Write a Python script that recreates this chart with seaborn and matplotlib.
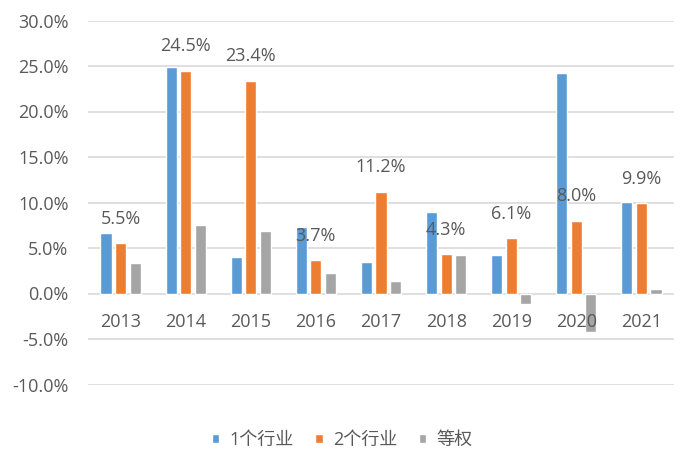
import seaborn as sns
import pandas as pd
import matplotlib.pyplot as plt
from matplotlib.ticker import FuncFormatter

years = ['2013', '2014', '2015', '2016', '2017', '2018', '2019', '2020', '2021']
one_industry = [6.7, 24.9, 4.0, 7.3, 3.5, 9.0, 4.2, 24.2, 10.1]
two_industry = [5.5, 24.5, 23.4, 3.7, 11.2, 4.3, 6.1, 8.0, 9.9]
equal_weight = [3.3, 7.5, 6.9, 2.2, 1.4, 4.2, -1.1, -4.2, 0.5]
series_names = ['1个行业', '2个行业', '等权']

df = pd.DataFrame({
    'year': years * 3,
    'value': one_industry + two_industry + equal_weight,
    'series': [series_names[0]] * 9 + [series_names[1]] * 9 + [series_names[2]] * 9,
})

sns.set_theme(style='white')
plt.rcParams['font.family'] = ['Open Sans', 'Noto Sans CJK SC', 'DejaVu Sans']
text_color = '#595959'

fig = plt.figure(figsize=(6.84, 4.59), dpi=100)
ax = fig.add_axes([88 / 684, (459 - 384.5) / 459, (674 - 88) / 684, (384.5 - 20.5) / 459])

sns.barplot(data=df, x='year', y='value', hue='series', ax=ax,
            palette=['#5B9BD5', '#ED7D31', '#A5A5A5'], width=0.67, gap=0.24,
            saturation=1, zorder=3)

ax.set_ylim(-10, 30)
ax.set_yticks(range(-10, 31, 5))
ax.yaxis.set_major_formatter(FuncFormatter(lambda v, _: '{:.1f}%'.format(v)))
ax.grid(axis='y', color='#D9D9D9', linewidth=1.2, zorder=0)
for s in ['top', 'right', 'left', 'bottom']:
    ax.spines[s].set_visible(False)
ax.tick_params(axis='y', length=0, pad=14, labelsize=13, labelcolor=text_color)
ax.set_xticks(range(len(years)))
ax.set_xticklabels([])
ax.tick_params(axis='x', length=0)
ax.set_xlabel('')
ax.set_ylabel('')

# year labels just below the zero line, drawn above the bars
for i, y in enumerate(years):
    ax.annotate(y, xy=(i, 0), xytext=(0, -20.5), textcoords='offset points',
                ha='center', va='center', fontsize=13, color=text_color, zorder=6)

# data labels for the 2-industry series, above the bar at the group centre
for i, v in enumerate(two_industry):
    ax.annotate('{:.1f}%'.format(v), xy=(i, v), xytext=(0, 17.5), textcoords='offset points',
                ha='center', va='center', fontsize=13, color=text_color, zorder=6)

handles, labels = ax.get_legend_handles_labels()
ax.legend_.remove()
fig.legend(handles, labels, loc='center', bbox_to_anchor=(0.5, (459 - 440) / 459), ncol=3,
           frameon=False, fontsize=13, handlelength=0.42, handleheight=0.42,
           handletextpad=0.55, columnspacing=1.2, labelcolor=text_color)

fig.savefig('out.png', dpi=100)
